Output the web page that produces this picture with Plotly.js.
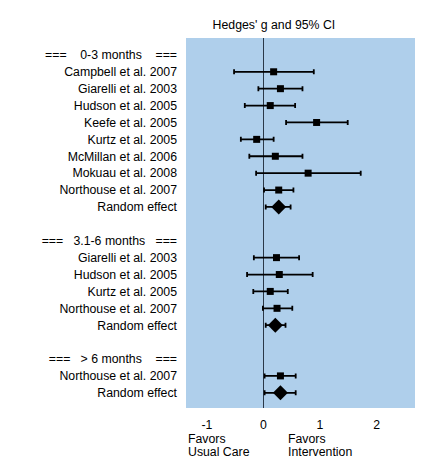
<!DOCTYPE html>
<html>
<head>
<meta charset="utf-8">
<script src="https://cdn.plot.ly/plotly-3.0.1.min.js"></script>
<style>html,body{margin:0;padding:0;background:#fff;}#chart{width:424px;height:470px;}</style>
</head>
<body>
<div id="chart"></div>
<script>
const NB = '\u00A0';
// Group headers
const groupHeaders = [
  '===' + NB.repeat(4) + '0-3 months' + NB.repeat(4) + '===',
  '===' + NB.repeat(3) + '3.1-6 months' + NB.repeat(3) + '===',
  '===' + NB.repeat(3) + '>' + NB + '6 months' + NB.repeat(4) + '==='
];
// Group 1: 0-3 months
const g1Studies = ['Campbell et al. 2007','Giarelli et al. 2003','Hudson et al. 2005','Keefe et al. 2005','Kurtz et al. 2005','McMillan et al. 2006','Mokuau et al. 2008','Northouse et al. 2007'];
const g1Effect = [0.18, 0.30, 0.12, 0.94, -0.12, 0.21, 0.79, 0.27];
const g1Lower  = [-0.52, -0.09, -0.33, 0.40, -0.40, -0.25, -0.13, 0.01];
const g1Upper  = [0.89, 0.69, 0.56, 1.49, 0.18, 0.69, 1.72, 0.53];
const g1Pooled = [0.27, 0.04, 0.48]; // effect, lower, upper
// Group 2: 3.1-6 months
const g2Studies = ['Giarelli et al. 2003','Hudson et al. 2005','Kurtz et al. 2005','Northouse et al. 2007'];
const g2Effect = [0.23, 0.28, 0.12, 0.24];
const g2Lower  = [-0.17, -0.29, -0.18, -0.01];
const g2Upper  = [0.63, 0.87, 0.43, 0.51];
const g2Pooled = [0.21, 0.04, 0.39];
// Group 3: > 6 months
const g3Studies = ['Northouse et al. 2007'];
const g3Effect = [0.30];
const g3Lower  = [0.02];
const g3Upper  = [0.57];
const g3Pooled = [0.30, 0.02, 0.57];

const pooledLabel = 'Random effect';
const xTicks = [-1, 0, 1, 2];
const axisTitle = "Hedges' g and 95% CI";
const leftNote = ['Favors', 'Usual Care'];
const rightNote = ['Favors', 'Intervention'];

// Build rows in order
const groups = [
  [g1Studies, g1Effect, g1Lower, g1Upper, g1Pooled],
  [g2Studies, g2Effect, g2Lower, g2Upper, g2Pooled],
  [g3Studies, g3Effect, g3Lower, g3Upper, g3Pooled]
];
const rowLabels = [];
const sx = [], sy = [], sPlus = [], sMinus = [];
const px = [], py = [], pPlus = [], pMinus = [];
groups.forEach((g, gi) => {
  if (gi > 0) rowLabels.push('');
  rowLabels.push(groupHeaders[gi]);
  const [names, eff, lo, hi, pooled] = g;
  names.forEach((n, i) => {
    const r = rowLabels.length;
    rowLabels.push(n);
    sx.push(eff[i]); sy.push(r);
    sPlus.push(hi[i] - eff[i]); sMinus.push(eff[i] - lo[i]);
  });
  const r = rowLabels.length;
  rowLabels.push(pooledLabel);
  px.push(pooled[0]); py.push(r);
  pPlus.push(pooled[2] - pooled[0]); pMinus.push(pooled[0] - pooled[1]);
});
const rowIdx = rowLabels.map((_, i) => i);

const traces = [
  {
    type: 'scatter', mode: 'markers', x: sx, y: sy,
    marker: {symbol: 'square', size: 7, color: '#000'},
    error_x: {type: 'data', symmetric: false, array: sPlus, arrayminus: sMinus, color: '#000', thickness: 1.8, width: 2.5},
    hoverinfo: 'x', showlegend: false
  },
  {
    type: 'scatter', mode: 'markers', x: px, y: py,
    marker: {symbol: 'diamond', size: 11.5, color: '#000'},
    error_x: {type: 'data', symmetric: false, array: pPlus, arrayminus: pMinus, color: '#000', thickness: 1.8, width: 2.5},
    hoverinfo: 'x', showlegend: false
  }
];

const FS = 12.3;
const noteAnn = (txt, x, y) => ({text: txt, xref: 'paper', yref: 'paper', x: x, y: y, xanchor: 'left', yanchor: 'middle', showarrow: false, font: {size: FS, color: '#000'}});

const layout = {
  width: 424, height: 470,
  margin: {l: 186, r: 9, t: 38, b: 62},
  paper_bgcolor: '#ffffff',
  plot_bgcolor: '#AFCFEB',
  font: {family: 'Liberation Sans, Arial, sans-serif', size: FS, color: '#000'},
  title: {text: axisTitle, font: {size: FS, color: '#000'}, xref: 'paper', x: 0.384, xanchor: 'center', yref: 'container', y: 0.947, yanchor: 'middle'},
  xaxis: {
    range: [-1.37, 2.68], tickvals: xTicks, ticktext: xTicks.map(String),
    showgrid: false, zeroline: true, zerolinecolor: '#2A3848', zerolinewidth: 1.5,
    showline: false, ticks: '', ticklabelstandoff: 8, tickfont: {size: FS, color: '#000'}, fixedrange: true
  },
  yaxis: {
    range: [20.9, -1.0], tickvals: rowIdx, ticktext: rowLabels,
    showgrid: false, zeroline: false, showline: false, ticks: '',
    ticklabelstandoff: 8, tickfont: {size: FS, color: '#000'}, fixedrange: true
  },
  annotations: [
    noteAnn(leftNote[0], 0.0, -0.0838),
    noteAnn(leftNote[1], 0.0, -0.1189),
    noteAnn(rightNote[0], 0.436, -0.0838),
    noteAnn(rightNote[1], 0.436, -0.1189)
  ]
};

Plotly.newPlot('chart', traces, layout, {displayModeBar: false, staticPlot: true});
</script>
</body>
</html>
